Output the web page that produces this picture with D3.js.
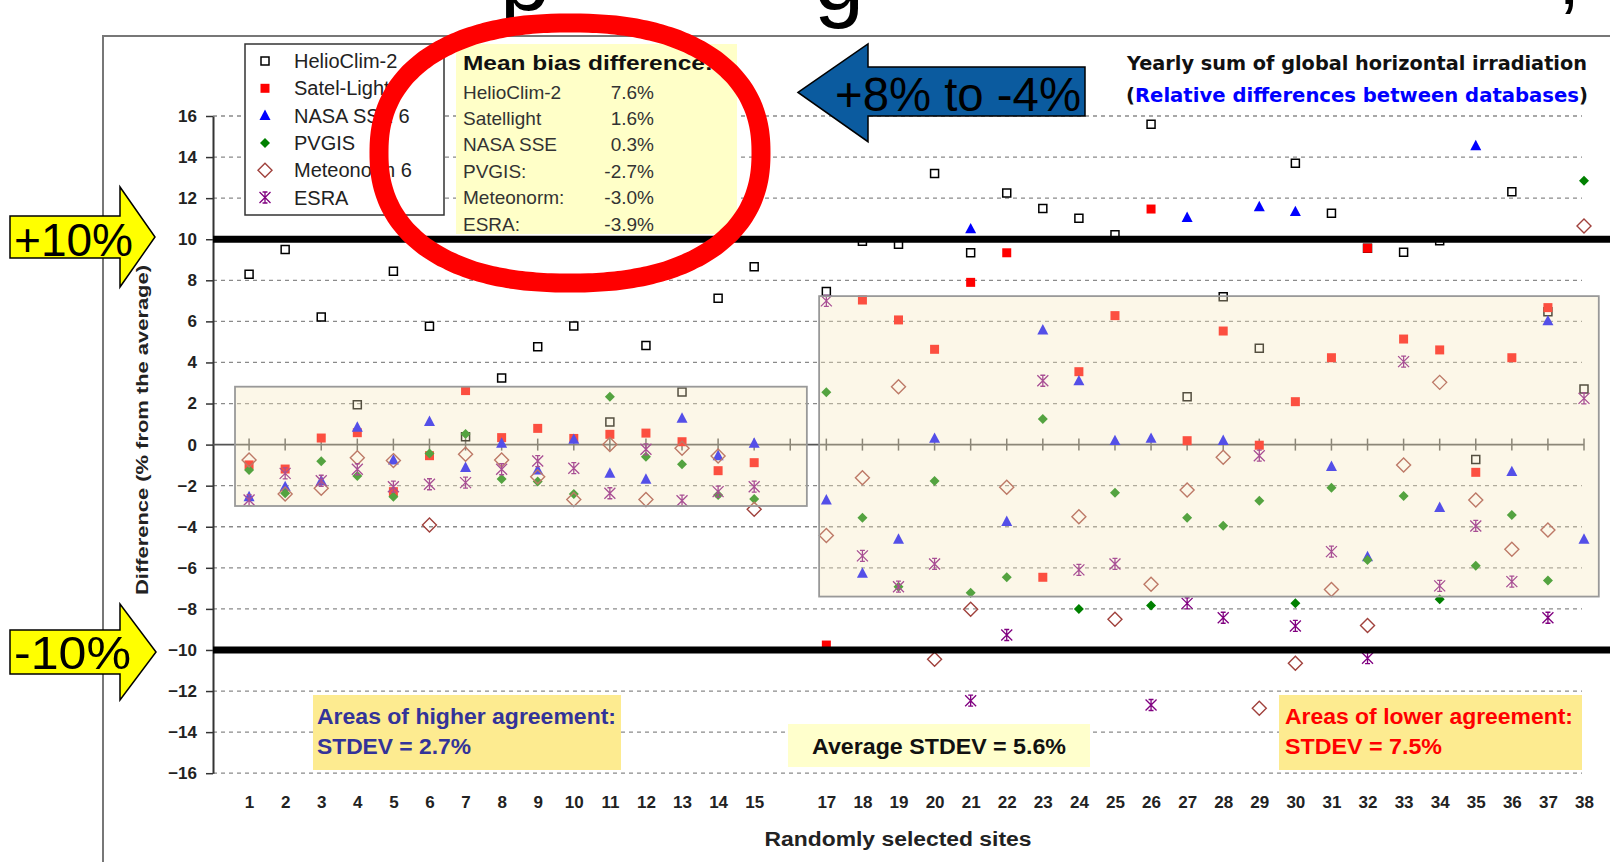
<!DOCTYPE html>
<html>
<head>
<meta charset="utf-8">
<script src="https://cdn.jsdelivr.net/npm/d3@7/dist/d3.min.js"></script>
<style>
body { margin: 0; background: #fff; }
svg { display: block; font-family: "Liberation Sans", Arial, sans-serif; }
</style>
</head>
<body>
<svg id="chart" width="1610" height="862"></svg>
<script>
// sites 1..38, site 16 has no data
var sites = d3.range(1, 39);
var yTicks = d3.range(-16, 17, 2);

var helioclim = [8.29, 9.5, 6.21, 1.94, 8.44, 5.76, 0.38, 3.24, 4.77, 5.77, 1.1, 4.83, 2.56, 7.12, 8.66, null,
  7.45, 9.9, 9.75, 13.2, 9.34, 12.25, 11.5, 11.02, 10.22, 15.6, 2.33, 7.2, 4.69, 13.7, 11.26, 9.56, 9.36, 9.93, -0.72, 12.31, 6.47, 2.71];
var satellight = [-0.99, -1.19, 0.32, 0.58, -2.29, -0.54, 2.63, 0.34, 0.79, 0.3, 0.5, 0.56, 0.14, -1.27, -0.88, null,
  -9.76, 7.04, 6.07, 4.64, 7.9, 9.34, -6.46, 3.55, 6.28, 11.47, 0.19, 5.53, -0.03, 2.09, 4.23, 9.56, 5.14, 4.61, -1.35, 4.23, 6.67, null];
var nasa = [-2.54, -2.05, -1.76, 0.84, -0.75, 1.12, -1.12, 0.06, -1.24, 0.25, -1.4, -1.69, 1.28, -0.55, 0.06, null,
  -2.7, -6.27, -4.61, 0.3, 10.5, -3.75, 5.58, 3.1, 0.19, 0.3, 11.05, 0.2, 11.58, 11.34, -1.07, -5.46, null, -3.07, 14.55, -1.32, 6.02, -4.61];
var pvgis = [-1.24, -2.37, -0.81, -1.53, -2.54, -0.43, 0.52, -1.67, -1.8, -2.4, 2.33, -0.59, -0.96, -2.45, -2.65, null,
  2.55, -3.56, -6.92, -1.77, -7.21, -6.46, 1.25, -8.0, -2.34, -7.84, -3.56, -3.95, -2.73, -7.73, -2.1, -5.62, -2.5, -7.53, -5.9, -3.43, -6.62, 12.85];
var meteonorm = [-0.75, -2.4, -2.13, -0.64, -0.78, -3.91, -0.47, -0.75, -1.56, -2.67, 0, -2.67, -0.18, -0.55, -3.15, null,
  -4.43, -1.61, 2.82, -10.45, -8.02, -2.08, null, -3.51, -8.5, -6.8, -2.21, -0.62, -12.84, -10.65, -7.05, -8.81, -0.99, 3.03, -2.7, -5.1, -4.16, 10.64];
var esra = [-2.7, -1.4, -1.76, -1.2, -2.05, -1.93, -1.85, -1.2, -0.8, -1.15, -2.37, -0.23, -2.73, -2.29, -2.05, null,
  7.0, -5.42, -6.92, -5.81, -12.47, -9.27, 3.11, -6.1, -5.81, -12.68, -7.73, -8.43, -0.54, -8.83, -5.21, -10.4, 4.04, -6.88, -3.96, -6.67, -8.43, 2.25];

var biasNames = ['HelioClim-2', 'Satellight', 'NASA SSE', 'PVGIS:', 'Meteonorm:', 'ESRA:'];
var biasValues = ['7.6%', '1.6%', '0.3%', '-2.7%', '-3.0%', '-3.9%'];

// marker shapes
function square(s) { return 'M' + (-s / 2) + ',' + (-s / 2) + 'h' + s + 'v' + s + 'h' + (-s) + 'Z'; }
function triangle(s) { return 'M0,' + (-s * 0.55) + 'L' + (s / 2) + ',' + (s * 0.4) + 'L' + (-s / 2) + ',' + (s * 0.4) + 'Z'; }
function diamond(s) { return 'M0,' + (-s / 2) + 'L' + (s / 2) + ',0L0,' + (s / 2) + 'L' + (-s / 2) + ',0Z'; }
function star(s) {
  var h = s / 2;
  return 'M' + (-h) + ',' + (-h) + 'L' + h + ',' + h + 'M' + (-h) + ',' + h + 'L' + h + ',' + (-h) +
    'M0,' + (-h) + 'L0,' + h + 'M' + (-h * 0.45) + ',' + (-h) + 'H' + (h * 0.45) + 'M' + (-h * 0.45) + ',' + h + 'H' + (h * 0.45);
}

var series = [
  { name: 'HelioClim-2', values: helioclim, path: square(8), fill: 'none', stroke: '#000', sw: 1.5 },
  { name: 'Satel-Light', values: satellight, path: square(9), fill: '#ff0000', stroke: 'none', sw: 0 },
  { name: 'NASA SSE 6', values: nasa, path: triangle(11), fill: '#0000ff', stroke: 'none', sw: 0 },
  { name: 'PVGIS', values: pvgis, path: diamond(10), fill: '#008000', stroke: 'none', sw: 0 },
  { name: 'Meteonorm 6', values: meteonorm, path: diamond(14), fill: 'none', stroke: '#a0413c', sw: 1.4 },
  { name: 'ESRA', values: esra, path: star(11), fill: 'none', stroke: '#800080', sw: 1.3 }
];

var svg = d3.select('#chart');
var x = d3.scaleLinear().domain([0, 38]).range([213, 1584]);
var y = d3.scaleLinear().domain([-16, 16]).range([773.2, 116]);

// partial slide title cut off at the top
svg.append('text').attr('x', 500).attr('y', 10).style('font-size', '90px').attr('fill', '#000').text('p');
svg.append('text').attr('x', 814).attr('y', 10).style('font-size', '90px').attr('fill', '#000').text('g');
svg.append('text').attr('x', 1558).attr('y', 4).style('font-size', '80px').attr('fill', '#000').text(',');

// chart frame
svg.append('path').attr('d', 'M103,862V36H1610').attr('fill', 'none').attr('stroke', '#777').attr('stroke-width', 2);

// gridlines
svg.append('g').selectAll('line').data(yTicks.filter(function (d) { return d !== 0; }))
  .enter().append('line')
  .attr('x1', 213).attr('x2', 1582)
  .attr('y1', function (d) { return y(d); }).attr('y2', function (d) { return y(d); })
  .attr('stroke', '#8a8a8a').attr('stroke-width', 1.3).attr('stroke-dasharray', '4,4');

// y axis
var yAxis = svg.append('g').attr('transform', 'translate(213,0)')
  .call(d3.axisLeft(y).tickValues(yTicks).tickSize(7).tickSizeOuter(0).tickPadding(9));
yAxis.select('.domain').attr('stroke', '#333').attr('stroke-width', 2);
yAxis.selectAll('.tick line').attr('stroke', '#333').attr('stroke-width', 1.5);
yAxis.selectAll('.tick text').attr('fill', '#222').style('font-size', '17px').style('font-weight', 'bold').style('font-family', '"Liberation Sans", Arial, sans-serif');

// x axis line at zero with cross ticks
svg.append('line').attr('x1', 213).attr('x2', x(38)).attr('y1', y(0)).attr('y2', y(0))
  .attr('stroke', '#555').attr('stroke-width', 1.6);
svg.append('g').selectAll('line').data(sites).enter().append('line')
  .attr('x1', function (d) { return x(d); }).attr('x2', function (d) { return x(d); })
  .attr('y1', y(0) - 6).attr('y2', y(0) + 6)
  .attr('stroke', '#555').attr('stroke-width', 1.5);

// x tick labels
var xAxis = svg.append('g').attr('transform', 'translate(0,796)')
  .call(d3.axisBottom(x).tickValues(sites).tickSize(0).tickPadding(0)
    .tickFormat(function (d) { return d === 16 ? '' : d; }));
xAxis.select('.domain').remove();
xAxis.selectAll('.tick text').attr('fill', '#222').style('font-size', '17px').style('font-weight', 'bold').style('font-family', '"Liberation Sans", Arial, sans-serif');

// axis titles
svg.append('text').attr('x', 898).attr('y', 846).attr('text-anchor', 'middle')
  .style('font-size', '20px').style('font-weight', 'bold').attr('fill', '#222')
  .attr('textLength', 267).attr('lengthAdjust', 'spacingAndGlyphs')
  .text('Randomly selected sites');
svg.append('text').attr('transform', 'translate(148,430) rotate(-90)').attr('text-anchor', 'middle')
  .style('font-size', '17px').style('font-weight', 'bold').attr('fill', '#222')
  .attr('textLength', 330).attr('lengthAdjust', 'spacingAndGlyphs')
  .text('Difference (% from the average)');

// data points
series.forEach(function (s) {
  svg.append('g').selectAll('path')
    .data(s.values.map(function (v, i) { return { site: sites[i], v: v }; }).filter(function (d) { return d.v !== null; }))
    .enter().append('path')
    .attr('d', s.path)
    .attr('transform', function (d) { return 'translate(' + x(d.site) + ',' + y(d.v) + ')'; })
    .attr('fill', s.fill).attr('stroke', s.stroke).attr('stroke-width', s.sw);
});

// translucent agreement zones
var zones = [[0.61, 16.46, 2.82, -2.99], [16.8, 38.41, 7.23, -7.4]];
svg.append('g').selectAll('rect').data(zones).enter().append('rect')
  .attr('x', function (d) { return x(d[0]); })
  .attr('width', function (d) { return x(d[1]) - x(d[0]); })
  .attr('y', function (d) { return y(d[2]); })
  .attr('height', function (d) { return y(d[3]) - y(d[2]); })
  .attr('fill', 'rgb(246,232,188)').attr('fill-opacity', 0.34)
  .attr('stroke', '#999').attr('stroke-width', 1.8);

// +10 / -10 limits
[10, -10].forEach(function (v) {
  svg.append('line').attr('x1', 213).attr('x2', 1610).attr('y1', y(v)).attr('y2', y(v))
    .attr('stroke', '#000').attr('stroke-width', 7);
});

// legend
var legend = svg.append('g');
legend.append('rect').attr('x', 245).attr('y', 44).attr('width', 199).attr('height', 171)
  .attr('fill', '#fff').attr('stroke', '#333').attr('stroke-width', 1.5);
series.forEach(function (s, i) {
  var cy = 61 + i * 27.3;
  legend.append('path').attr('d', s.path).attr('transform', 'translate(265,' + cy + ')')
    .attr('fill', s.fill).attr('stroke', s.stroke).attr('stroke-width', s.sw);
  legend.append('text').attr('x', 294).attr('y', cy + 7).style('font-size', '20px').attr('fill', '#222').text(s.name);
});

// mean bias box
var bias = svg.append('g');
bias.append('rect').attr('x', 456).attr('y', 44).attr('width', 281).attr('height', 190).attr('fill', '#ffffc8');
bias.append('text').attr('x', 463).attr('y', 70).style('font-size', '21px').style('font-weight', 'bold')
  .attr('fill', '#111').attr('textLength', 250).attr('lengthAdjust', 'spacingAndGlyphs').text('Mean bias difference:');
biasNames.forEach(function (n, i) {
  var by = 98.6 + i * 26.4;
  bias.append('text').attr('x', 463).attr('y', by).style('font-size', '19px').attr('fill', '#333').text(n);
  bias.append('text').attr('x', 654).attr('y', by).attr('text-anchor', 'end').style('font-size', '19px').attr('fill', '#333').text(biasValues[i]);
});

// top-right title
svg.append('text').attr('x', 1127).attr('y', 70).style('font-family', '"DejaVu Sans", Verdana, sans-serif')
  .style('font-size', '19px').style('font-weight', 'bold').attr('fill', '#111')
  .attr('textLength', 460).attr('lengthAdjust', 'spacingAndGlyphs')
  .text('Yearly sum of global horizontal irradiation');
var sub = svg.append('text').attr('x', 1126).attr('y', 102).style('font-family', '"DejaVu Sans", Verdana, sans-serif')
  .style('font-size', '19px').style('font-weight', 'bold').attr('fill', '#111')
  .attr('textLength', 462).attr('lengthAdjust', 'spacingAndGlyphs');
sub.append('tspan').text('(');
sub.append('tspan').attr('fill', '#0000ff').text('Relative differences between databases');
sub.append('tspan').text(')');

// bottom notes
var notes = svg.append('g');
notes.append('rect').attr('x', 313).attr('y', 695).attr('width', 308).attr('height', 75).attr('fill', '#fdeb90');
notes.append('rect').attr('x', 788).attr('y', 724).attr('width', 302).attr('height', 43).attr('fill', '#ffffcc');
notes.append('rect').attr('x', 1279).attr('y', 695).attr('width', 303).attr('height', 75).attr('fill', '#fdeb90');
function note(tx, ty, len, col, str) {
  notes.append('text').attr('x', tx).attr('y', ty).style('font-size', '22px').style('font-weight', 'bold')
    .attr('fill', col).attr('textLength', len).attr('lengthAdjust', 'spacingAndGlyphs').text(str);
}
note(317, 724, 299, '#333399', 'Areas of higher agreement:');
note(317, 754, 154, '#333399', 'STDEV = 2.7%');
note(812, 754, 254, '#111', 'Average STDEV = 5.6%');
note(1285, 724, 288, '#ff0000', 'Areas of lower agreement:');
note(1285, 754, 157, '#ff0000', 'STDEV = 7.5%');

// yellow arrows at the limits
function rightArrow(top, bot, headTop, headBot, tip) {
  var mid = (headTop + headBot) / 2;
  return 'M10,' + top + 'H120V' + headTop + 'L' + tip + ',' + mid + 'L120,' + headBot + 'V' + bot + 'H10Z';
}
svg.append('path').attr('d', rightArrow(216, 258, 187, 287, 155))
  .attr('fill', '#ffff00').attr('stroke', '#000').attr('stroke-width', 1.5);
svg.append('text').attr('x', 14).attr('y', 256).style('font-size', '46px').attr('fill', '#000')
  .attr('textLength', 119).attr('lengthAdjust', 'spacingAndGlyphs').text('+10%');
svg.append('path').attr('d', rightArrow(630, 674, 604, 700, 156))
  .attr('fill', '#ffff00').attr('stroke', '#000').attr('stroke-width', 1.5);
svg.append('text').attr('x', 14).attr('y', 669).style('font-size', '46px').attr('fill', '#000')
  .attr('textLength', 117).attr('lengthAdjust', 'spacingAndGlyphs').text('-10%');

// blue arrow
svg.append('path').attr('d', 'M798,92.4L868,44V67H1085V116H868V141.7Z')
  .attr('fill', '#0b5b9f').attr('stroke', '#000').attr('stroke-width', 1.5);
svg.append('text').attr('x', 835).attr('y', 111).style('font-size', '48px').attr('fill', '#000')
  .attr('textLength', 246).attr('lengthAdjust', 'spacingAndGlyphs').text('+8% to -4%');

// red oval around the bias summary
var oval = d3.range(0, 360, 2).map(function (deg) {
  var t = deg * Math.PI / 180, n = 2.3;
  var c = Math.cos(t), s = Math.sin(t);
  return [570 + 191 * Math.sign(c) * Math.pow(Math.abs(c), 2 / n),
          153 + 130 * Math.sign(s) * Math.pow(Math.abs(s), 2 / n)];
});
svg.append('path').attr('d', d3.line().curve(d3.curveCardinalClosed)(oval))
  .attr('fill', 'none').attr('stroke', '#ff0000').attr('stroke-width', 19);
</script>
</body>
</html>
